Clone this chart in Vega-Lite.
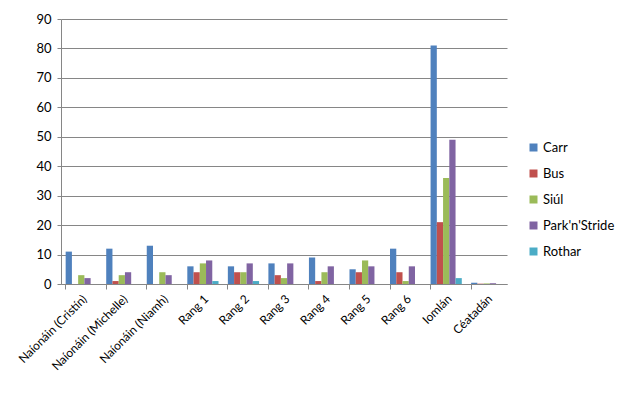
{
  "$schema": "https://vega.github.io/schema/vega-lite/v6.json",
  "width": 446,
  "height": 265,
  "autosize": {"type": "none"},
  "padding": {"left": 61, "top": 19, "right": 120, "bottom": 111},
  "background": "white",
  "config": {
    "font": "Lato",
    "view": {"stroke": null},
    "axis": {"labelFont": "Lato", "labelColor": "#000000", "labelFontSize": 12}
  },
  "data": {
    "values": [
      {"rang": "Naíonáin (Cristín)", "modh": "Carr", "lion": 11},
      {"rang": "Naíonáin (Cristín)", "modh": "Bus", "lion": 0},
      {"rang": "Naíonáin (Cristín)", "modh": "Siúl", "lion": 3},
      {"rang": "Naíonáin (Cristín)", "modh": "Park'n'Stride", "lion": 2},
      {"rang": "Naíonáin (Cristín)", "modh": "Rothar", "lion": 0},
      {"rang": "Naíonáin (Michelle)", "modh": "Carr", "lion": 12},
      {"rang": "Naíonáin (Michelle)", "modh": "Bus", "lion": 1},
      {"rang": "Naíonáin (Michelle)", "modh": "Siúl", "lion": 3},
      {"rang": "Naíonáin (Michelle)", "modh": "Park'n'Stride", "lion": 4},
      {"rang": "Naíonáin (Michelle)", "modh": "Rothar", "lion": 0},
      {"rang": "Naíonáin (Niamh)", "modh": "Carr", "lion": 13},
      {"rang": "Naíonáin (Niamh)", "modh": "Bus", "lion": 0},
      {"rang": "Naíonáin (Niamh)", "modh": "Siúl", "lion": 4},
      {"rang": "Naíonáin (Niamh)", "modh": "Park'n'Stride", "lion": 3},
      {"rang": "Naíonáin (Niamh)", "modh": "Rothar", "lion": 0},
      {"rang": "Rang 1", "modh": "Carr", "lion": 6},
      {"rang": "Rang 1", "modh": "Bus", "lion": 4},
      {"rang": "Rang 1", "modh": "Siúl", "lion": 7},
      {"rang": "Rang 1", "modh": "Park'n'Stride", "lion": 8},
      {"rang": "Rang 1", "modh": "Rothar", "lion": 1},
      {"rang": "Rang 2", "modh": "Carr", "lion": 6},
      {"rang": "Rang 2", "modh": "Bus", "lion": 4},
      {"rang": "Rang 2", "modh": "Siúl", "lion": 4},
      {"rang": "Rang 2", "modh": "Park'n'Stride", "lion": 7},
      {"rang": "Rang 2", "modh": "Rothar", "lion": 1},
      {"rang": "Rang 3", "modh": "Carr", "lion": 7},
      {"rang": "Rang 3", "modh": "Bus", "lion": 3},
      {"rang": "Rang 3", "modh": "Siúl", "lion": 2},
      {"rang": "Rang 3", "modh": "Park'n'Stride", "lion": 7},
      {"rang": "Rang 3", "modh": "Rothar", "lion": 0},
      {"rang": "Rang 4", "modh": "Carr", "lion": 9},
      {"rang": "Rang 4", "modh": "Bus", "lion": 1},
      {"rang": "Rang 4", "modh": "Siúl", "lion": 4},
      {"rang": "Rang 4", "modh": "Park'n'Stride", "lion": 6},
      {"rang": "Rang 4", "modh": "Rothar", "lion": 0},
      {"rang": "Rang 5", "modh": "Carr", "lion": 5},
      {"rang": "Rang 5", "modh": "Bus", "lion": 4},
      {"rang": "Rang 5", "modh": "Siúl", "lion": 8},
      {"rang": "Rang 5", "modh": "Park'n'Stride", "lion": 6},
      {"rang": "Rang 5", "modh": "Rothar", "lion": 0},
      {"rang": "Rang 6", "modh": "Carr", "lion": 12},
      {"rang": "Rang 6", "modh": "Bus", "lion": 4},
      {"rang": "Rang 6", "modh": "Siúl", "lion": 1},
      {"rang": "Rang 6", "modh": "Park'n'Stride", "lion": 6},
      {"rang": "Rang 6", "modh": "Rothar", "lion": 0},
      {"rang": "Iomlán", "modh": "Carr", "lion": 81},
      {"rang": "Iomlán", "modh": "Bus", "lion": 21},
      {"rang": "Iomlán", "modh": "Siúl", "lion": 36},
      {"rang": "Iomlán", "modh": "Park'n'Stride", "lion": 49},
      {"rang": "Iomlán", "modh": "Rothar", "lion": 2},
      {"rang": "Céatadán", "modh": "Carr", "lion": 0.43},
      {"rang": "Céatadán", "modh": "Bus", "lion": 0.11},
      {"rang": "Céatadán", "modh": "Siúl", "lion": 0.19},
      {"rang": "Céatadán", "modh": "Park'n'Stride", "lion": 0.26},
      {"rang": "Céatadán", "modh": "Rothar", "lion": 0.01}
    ]
  },
  "mark": {"type": "bar"},
  "encoding": {
    "x": {
      "field": "rang",
      "type": "nominal",
      "sort": null,
      "title": null,
      "scale": {"paddingInner": 0.23, "paddingOuter": 0.115},
      "axis": {
        "labelAngle": -45,
        "labelAlign": "right",
        "labelBaseline": "top",
        "labelPadding": 4,
        "bandPosition": 0,
        "domainColor": "#868686",
        "tickColor": "#868686",
        "tickSize": 5,
        "grid": false
      }
    },
    "xOffset": {
      "field": "modh",
      "type": "nominal",
      "sort": ["Carr", "Bus", "Siúl", "Park'n'Stride", "Rothar"],
      "scale": {"paddingInner": 0, "paddingOuter": 0}
    },
    "y": {
      "field": "lion",
      "type": "quantitative",
      "title": null,
      "scale": {"domain": [0, 90], "nice": false},
      "axis": {
        "values": [0, 10, 20, 30, 40, 50, 60, 70, 80, 90],
        "domain": true,
        "domainColor": "#868686",
        "gridColor": "#868686",
        "gridOpacity": 1,
        "tickColor": "#868686",
        "tickSize": 4,
        "labelPadding": 6,
        "labelFontSize": 13
      }
    },
    "color": {
      "field": "modh",
      "type": "nominal",
      "sort": ["Carr", "Bus", "Siúl", "Park'n'Stride", "Rothar"],
      "scale": {
        "domain": ["Carr", "Bus", "Siúl", "Park'n'Stride", "Rothar"],
        "range": ["#4F81BD", "#C0504D", "#9BBB59", "#8064A2", "#4BACC6"]
      },
      "legend": {
        "title": null,
        "orient": "none",
        "legendX": 466,
        "legendY": 122,
        "symbolType": "square",
        "symbolSize": 64,
        "symbolStrokeWidth": 0,
        "rowPadding": 12,
        "labelFontSize": 13,
        "labelFont": "Lato",
        "labelOffset": 3
      }
    }
  }
}
